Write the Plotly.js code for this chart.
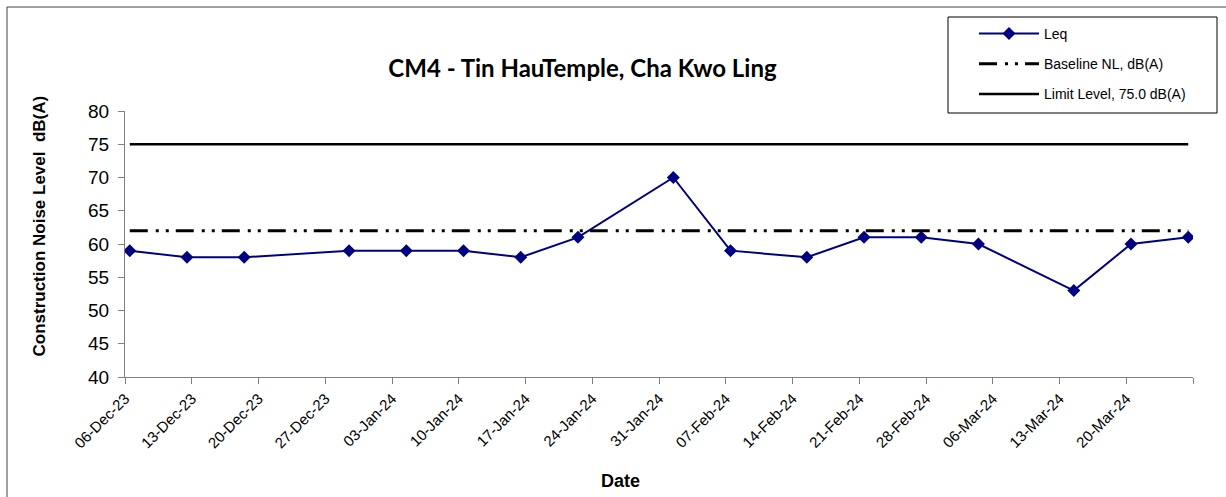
<!DOCTYPE html>
<html>
<head>
<meta charset="utf-8">
<script src="https://cdn.plot.ly/plotly-3.0.1.min.js"></script>
<style>
html,body{margin:0;padding:0;background:#fff;}
#chart{width:1226px;height:497px;}
</style>
</head>
<body>
<div id="chart"></div>
<script>
// ---- data ----
const dates = ["2023-12-06","2023-12-12","2023-12-18","2023-12-29","2024-01-04","2024-01-10","2024-01-16","2024-01-22","2024-02-01","2024-02-07","2024-02-15","2024-02-21","2024-02-27","2024-03-04","2024-03-14","2024-03-20","2024-03-26"];
const leq = [59,58,58,59,59,59,58,61,70,59,58,61,61,60,53,60,61];
const baselineLevel = 62;
const limitLevel = 75;
const tickDates = ["2023-12-06","2023-12-13","2023-12-20","2023-12-27","2024-01-03","2024-01-10","2024-01-17","2024-01-24","2024-01-31","2024-02-07","2024-02-14","2024-02-21","2024-02-28","2024-03-06","2024-03-13","2024-03-20","2024-03-27"];
const tickLabels = ["06-Dec-23","13-Dec-23","20-Dec-23","27-Dec-23","03-Jan-24","10-Jan-24","17-Jan-24","24-Jan-24","31-Jan-24","07-Feb-24","14-Feb-24","21-Feb-24","28-Feb-24","06-Mar-24","13-Mar-24","20-Mar-24",""];
const seriesNames = ["Leq","Baseline NL, dB(A)","Limit Level, 75.0 dB(A)"];
const titleText = "CM4 - Tin HauTemple, Cha Kwo Ling";
const yTitle = "Construction Noise Level  dB(A)";
const xTitle = "Date";

// Excel date axis centres each point in its day
const xPts = dates.map(d => d + " 12:00");
const baseArr = dates.map(() => baselineLevel);
const limitArr = dates.map(() => limitLevel);

const FONT = "Liberation Sans, Arial, sans-serif";

// plot area in pixels
const W = 1226, H = 497;
const L = 125, R = 33, T = 111, B = 120;
const pw = W - L - R, ph = H - T - B;
const px = x => (x - L) / pw;
const py = y => (H - B - y) / ph;

const traces = [
  {x: xPts, y: leq, name: seriesNames[0], type: "scatter", mode: "lines+markers",
   line: {color: "#000080", width: 2}, marker: {symbol: "diamond", size: 10, color: "#000080"},
   legendgroup: "a"},
  {x: xPts, y: baseArr, name: seriesNames[1], type: "scatter", mode: "lines",
   line: {color: "#000000", width: 3, dash: "18px,8px,3px,7px,3px,7px"}, legendgroup: "b"},
  {x: xPts, y: limitArr, name: seriesNames[2], type: "scatter", mode: "lines",
   line: {color: "#000000", width: 2.5}, legendgroup: "c"}
];

const layout = {
  width: W, height: H,
  margin: {l: L, r: R, t: T, b: B, pad: 0},
  paper_bgcolor: "#fff", plot_bgcolor: "#fff",
  font: {family: FONT, color: "#000"},
  showlegend: true,
  legend: {
    x: px(974), y: py(18), xanchor: "left", yanchor: "top",
    xref: "paper", yref: "paper",
    bgcolor: "rgba(0,0,0,0)", borderwidth: 0,
    font: {family: FONT, size: 14, color: "#000"},
    traceorder: "grouped", tracegroupgap: 9, itemwidth: 60
  },
  title: {
    text: "<b>" + titleText + "</b>",
    font: {family: "Lato, Open Sans, sans-serif", size: 24, color: "#000"},
    x: px(582.5), xref: "paper", xanchor: "center",
    y: 1 - 69 / H, yref: "container", yanchor: "middle"
  },
  xaxis: {
    type: "date",
    range: ["2023-12-06", "2024-03-27"],
    tickvals: tickDates, ticktext: tickLabels,
    tickangle: -45,
    tickfont: {family: FONT, size: 15, color: "#000"},
    ticks: "outside", ticklen: 6, tickcolor: "#808080", tickwidth: 1,
    showline: true, linecolor: "#808080", linewidth: 1,
    showgrid: false, zeroline: false, fixedrange: true
  },
  yaxis: {
    range: [40, 80], tick0: 40, dtick: 5,
    tickfont: {family: FONT, size: 19, color: "#000"},
    ticklabelstandoff: 5,
    ticks: "outside", ticklen: 6, tickcolor: "#808080", tickwidth: 1,
    showline: true, linecolor: "#808080", linewidth: 1,
    showgrid: false, zeroline: false, fixedrange: true
  },
  annotations: [
    {text: "<b>" + yTitle + "</b>", textangle: -90, showarrow: false,
     xref: "paper", yref: "paper", x: px(39), y: py(226.5), xanchor: "center", yanchor: "middle",
     font: {family: FONT, size: 17, color: "#000"}},
    {text: "<b>" + xTitle + "</b>", showarrow: false,
     xref: "paper", yref: "paper", x: px(620), y: py(481), xanchor: "center", yanchor: "middle",
     font: {family: FONT, size: 18, color: "#000"}}
  ],
  shapes: [
    {type: "rect", xref: "paper", yref: "paper",
     x0: px(7), x1: px(1240), y0: py(7), y1: py(510),
     line: {color: "#404040", width: 1}, fillcolor: "rgba(0,0,0,0)", layer: "below"},
    {type: "rect", xref: "paper", yref: "paper",
     x0: px(948), x1: px(1217), y0: py(17), y1: py(113),
     line: {color: "#000000", width: 1}, fillcolor: "#ffffff", layer: "below"}
  ]
};

Plotly.newPlot("chart", traces, layout, {staticPlot: true, displayModeBar: false});
</script>
</body>
</html>
